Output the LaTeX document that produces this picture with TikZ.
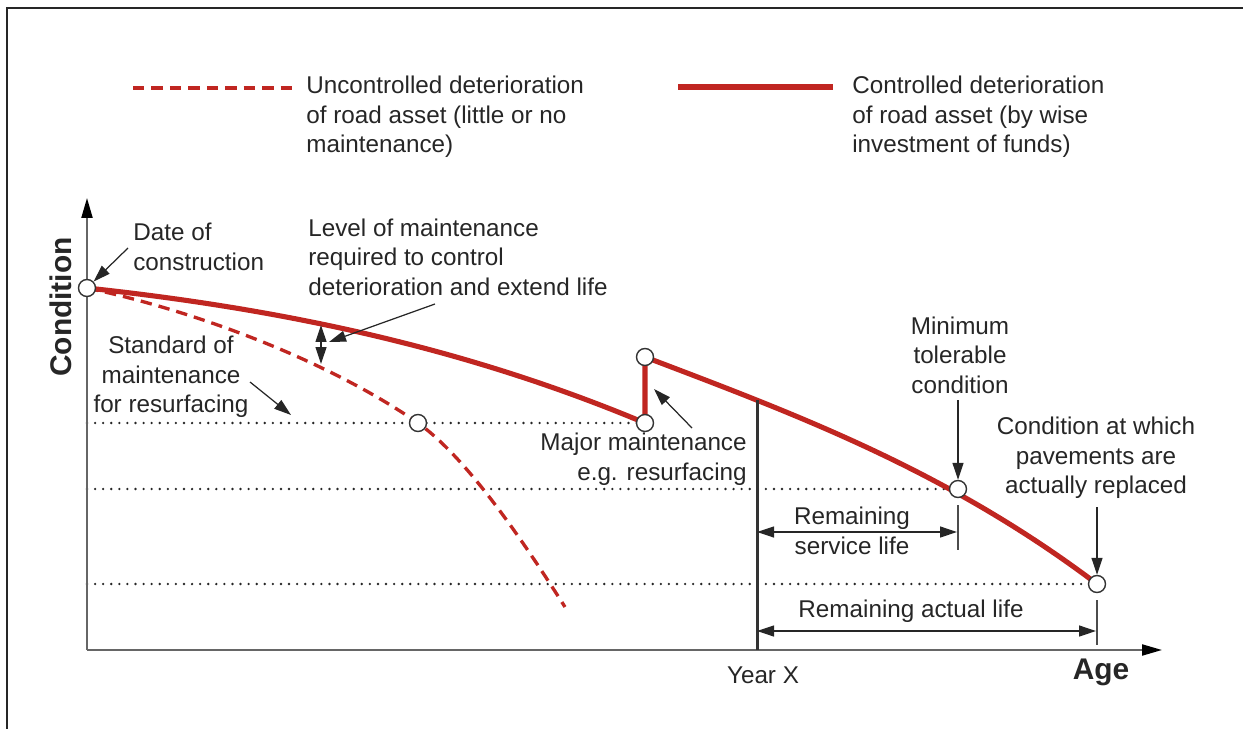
\documentclass[tikz,border=0pt]{standalone}
\usepackage{fontspec}
\setmainfont{Liberation Sans}
\usetikzlibrary{arrows.meta}
\definecolor{roadred}{RGB}{192,38,33}
\definecolor{txtgray}{RGB}{38,38,38}

\begin{document}
\begin{tikzpicture}[x=0.02cm,y=-0.02cm,
    font=\fontsize{13.8}{16.8}\selectfont,
    every node/.style={text=txtgray},
    lbl/.style={align=center, inner sep=0pt},
    ring/.style={circle, draw=black!80, fill=white, line width=0.8pt, minimum size=0.34cm, inner sep=0pt},
    ctrl/.style={roadred, line width=2.9pt},
    unctrl/.style={roadred, line width=1.9pt, dash pattern=on 6.5pt off 4pt},
    guide/.style={black!85, line width=1.5pt, line cap=round, dash pattern=on 0pt off 4.6pt},
    pointer/.style={-{Triangle[length=0.34cm,width=0.22cm]}, black!85, line width=0.7pt},
    span/.style={{Triangle[length=0.34cm,width=0.22cm]}-{Triangle[length=0.34cm,width=0.22cm]}, black!85, line width=0.7pt},
    axisline/.style={-{Triangle[length=0.4cm,width=0.22cm,black]}, black!60, line width=1.2pt}]
      \useasboundingbox (0,0) rectangle (1243,729);
      \draw[black!85, line width=1.2pt] (7,729) -- (7,8) -- (1243,8);

      % Legend
      \draw[unctrl] (133,88) -- (293,88);
      \node[lbl, anchor=west, align=left] at (306,117) {Uncontrolled deterioration\\of road asset (little or no\\maintenance)};
      \draw[ctrl] (678,87) -- (833,87);
      \node[lbl, anchor=west, align=left] at (852,117) {Controlled deterioration\\of road asset (by wise\\investment of funds)};

      % Key points
      \coordinate (origin) at (87,650);
      \coordinate (pBuilt) at (87,288);
      \coordinate (pHalf) at (418,423);
      \coordinate (pLow) at (645,423);
      \coordinate (pHigh) at (645,357);
      \coordinate (pMin) at (958,489);
      \coordinate (pEnd) at (1097,584);

      % Threshold levels
      \foreach \p in {pLow,pMin,pEnd} {
        \draw[guide] (origin |- \p) -- (\p);
      }

      % Axes
      \draw[axisline] (origin) -- (87,198);
      \draw[axisline] (origin) -- (1162,650);
      \node[rotate=90, font=\bfseries\fontsize{17}{20}\selectfont] (condlbl) at (61,307) {Condition};
      \node[font=\bfseries\fontsize{17}{20}\selectfont] (agelbl) at (1101,672) {Age};

      % Deterioration curves
      \draw[unctrl] (pBuilt) .. controls (200,312) and (330,362) .. (pHalf)
                             .. controls (470,460) and (530,552) .. (565,607);
      \draw[ctrl] (pBuilt) .. controls (273,308) and (459,345) .. (pLow) -- (pHigh)
                           .. controls (795,414) and (946,470) .. (pEnd)
                           coordinate[pos=0.25] (pYear);

      % Year X
      \draw[black!80, line width=1.4pt] (pYear) -- (pYear |- origin);
      \node (yearlbl) at (763,675) {Year X};

      % Points on the curves
      \foreach \p in {pBuilt,pHalf,pLow,pHigh,pMin,pEnd} {
        \node[ring] (\p n) at (\p) {};
      }

      % Date of construction
      \node[lbl, anchor=west, align=left] (datelbl) at (133,247) {Date of\\construction};
      \coordinate (dateTail) at (128,248);
      \draw[pointer] (dateTail) -- (pBuiltn);

      % Level of maintenance
      \node[lbl, anchor=west, align=left] (levellbl) at (308,257) {Level of maintenance\\required to control\\deterioration and extend life};
      \coordinate (gapTop) at (321,325);
      \coordinate (gapBot) at (321,364);
      \draw[span] (gapTop) -- (gapBot);
      \coordinate (levelTail) at (435,304);
      \coordinate (levelTip) at (329,342);
      \draw[pointer] (levelTail) -- (levelTip);

      % Standard of maintenance
      \node[lbl] (stdlbl) at (171,377) {Standard of\\maintenance\\for resurfacing};
      \coordinate (stdTail) at (250,382);
      \coordinate (stdTip) at (291,415);
      \draw[pointer] (stdTail) -- (stdTip);

      % Major maintenance
      \node[lbl, anchor=east, align=right] (majorlbl) at (747,459) {Major maintenance\\e.g. resurfacing};
      \coordinate (majorTail) at (692,428);
      \coordinate (majorTip) at (654,389);
      \draw[pointer] (majorTail) -- (majorTip);

      % Minimum tolerable condition
      \node[lbl] (minlbl) at (960,355) {Minimum\\tolerable\\condition};
      \coordinate (minTail) at (958,400);
      \draw[pointer] (minTail) -- (pMinn);

      % Replacement condition
      \node[lbl] (replbl) at (1096,458) {Condition at which\\pavements are\\actually replaced};
      \coordinate (repTail) at (1097,507);
      \draw[pointer] (repTail) -- (pEndn);

      % Remaining lives
      \draw[black!70, line width=0.7pt] (958,505) -- (958,550);
      \draw[black!70, line width=0.7pt] (1097,600) -- (1097,645);
      \coordinate (svcL) at (757,532);
      \coordinate (svcR) at (957,532);
      \draw[span] (svcL) -- (svcR);
      \node[lbl] (svclbl) at (852,531) {Remaining\\service life};
      \coordinate (actL) at (757,631);
      \coordinate (actR) at (1096,631);
      \draw[span] (actL) -- (actR);
      \node[lbl] (actlbl) at (911,611) {Remaining actual life};
\end{tikzpicture}
\end{document}
